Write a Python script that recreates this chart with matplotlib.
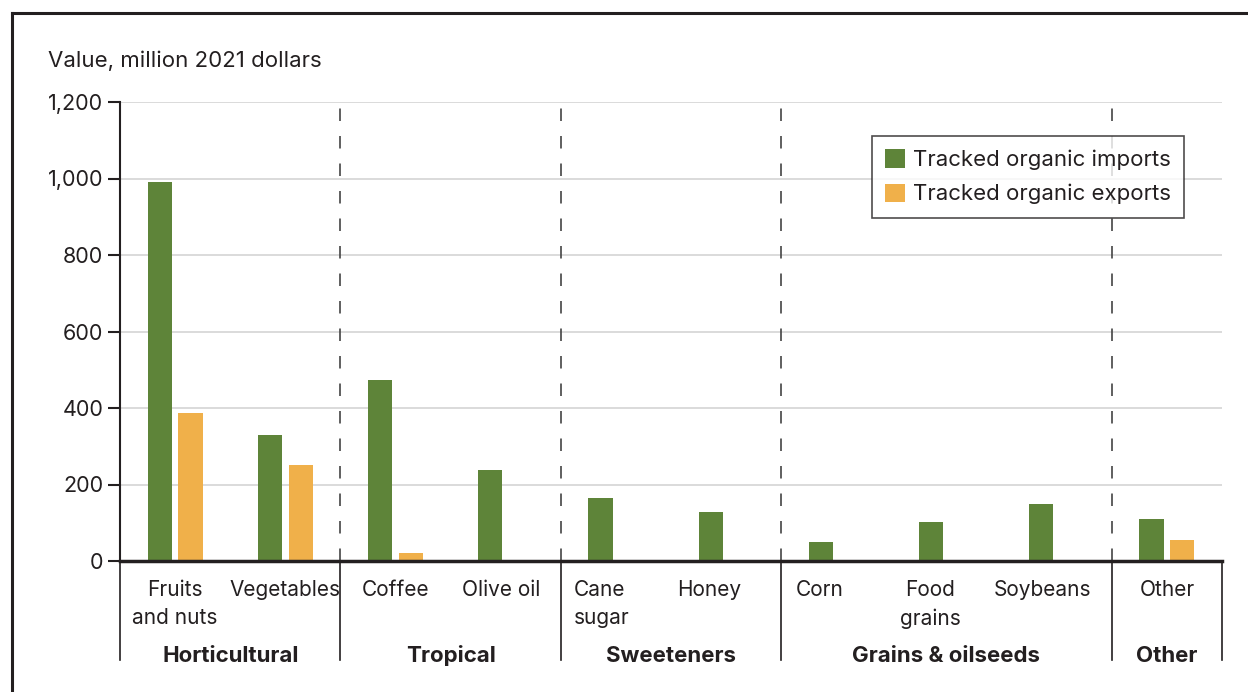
import matplotlib.pyplot as plt
from matplotlib.lines import Line2D

plt.rcParams['font.family'] = ['Inter', 'DejaVu Sans']

# values (million 2021 dollars)
categories = ['Fruits\nand nuts', 'Vegetables', 'Coffee', 'Olive oil', 'Cane\nsugar',
              'Honey', 'Corn', 'Food\ngrains', 'Soybeans', 'Other']
imports = [992, 330, 473, 238, 165, 128, 50, 101, 149, 110]
exports = [387, 251, 21, 0, 0, 0, 0, 0, 0, 54]
groups = ['Horticultural', 'Tropical', 'Sweeteners', 'Grains & oilseeds', 'Other']
group_sizes = [2, 2, 2, 3, 1]
y_ticks = [0, 200, 400, 600, 800, 1000, 1200]

# horizontal nudges of the category labels, as in the original layout
label_nudge = [0, 0, 0, -0.04, -0.13, -0.15, -0.15, -0.145, -0.13, 0]
label_align = ['center', 'center', 'center', 'center', 'left',
               'center', 'center', 'center', 'center', 'center']

green = '#5E8439'
orange = '#F0B04A'
dark = '#231f20'

W, H = 1248, 692
fig = plt.figure(figsize=(W / 100, H / 100), dpi=100)
ax = fig.add_axes([120 / W, (H - 561) / H, 1102 / W, 459 / H])

x = list(range(len(categories)))
bw = 0.22
off = 0.14
ax.bar([i - off for i in x], imports, width=bw, color=green, label='Tracked organic imports', zorder=3)
ax.bar([i + off for i in x], exports, width=bw, color=orange, label='Tracked organic exports', zorder=3)

ax.set_xlim(-0.5, len(categories) - 0.5)
ax.set_ylim(0, 1200)
ax.set_yticks(y_ticks)
ax.set_yticklabels([f'{v:,}' for v in y_ticks], fontsize=15.5, color=dark)
ax.tick_params(axis='y', length=9, width=1.5, color=dark, pad=3)
ax.set_xticks([])
ax.grid(axis='y', color='#d4d4d4', linewidth=1.2, zorder=0)

for s in ['top', 'right']:
    ax.spines[s].set_visible(False)
ax.spines['left'].set_color(dark)
ax.spines['left'].set_linewidth(1.5)
ax.spines['bottom'].set_color(dark)
ax.spines['bottom'].set_linewidth(2.5)
ax.spines['bottom'].set_zorder(5)

# group separators: dashed above the axis, solid below it
trans = ax.get_xaxis_transform()
bounds = [-0.5]
for n in group_sizes:
    bounds.append(bounds[-1] + n)
for b in bounds:
    if b not in (bounds[0], bounds[-1]):
        ax.plot([b, b], [0, 1], transform=trans, color='#444444', lw=1.2,
                linestyle=(0, (7.5, 9)), zorder=2, clip_on=False)
    ax.plot([b, b], [0, -0.216], transform=trans, color=dark, lw=1.2, clip_on=False)

# category and group labels
for i, lab in enumerate(categories):
    ax.text(i + label_nudge[i], -0.042, lab, transform=trans, ha='center', va='top',
            fontsize=15, color=dark, linespacing=1.5, multialignment=label_align[i])
start = -0.5
for g, n in zip(groups, group_sizes):
    ax.text(start + n / 2, -0.219, g, transform=trans, ha='center', va='baseline',
            fontsize=16, fontweight='bold', color=dark)
    start += n

leg = ax.legend(loc='upper right', bbox_to_anchor=((1184 - 120) / 1102, (561 - 136) / 459),
                borderaxespad=0, fontsize=16, frameon=True, fancybox=False,
                handlelength=0.9, handleheight=0.9, handletextpad=0.35,
                borderpad=0.6, labelspacing=0.6, labelcolor=dark)
leg.get_frame().set_edgecolor(dark)
leg.get_frame().set_linewidth(1.2)

fig.text(48 / W, 1 - 61 / H, 'Value, million 2021 dollars', ha='left', va='center',
         fontsize=16, color=dark)

# outer frame (top and left edges visible)
fig.add_artist(Line2D([12 / W, 1.0], [1 - 13 / H, 1 - 13 / H], color=dark, lw=2.2))
fig.add_artist(Line2D([12 / W, 12 / W], [0, 1 - 13 / H], color=dark, lw=2.2))

fig.savefig('out.png', dpi=100)
